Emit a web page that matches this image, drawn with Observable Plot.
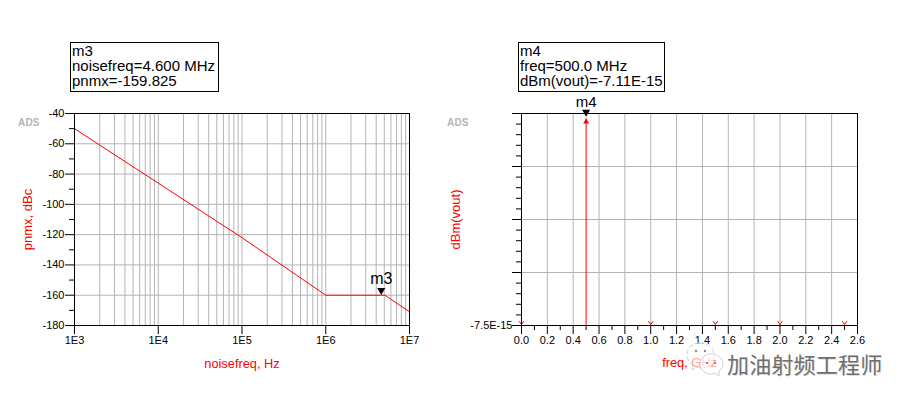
<!DOCTYPE html>
<html>
<head>
<meta charset="utf-8">
<script src="https://cdn.jsdelivr.net/npm/d3@7"></script>
<script src="https://cdn.jsdelivr.net/npm/@observablehq/plot@0.6"></script>
<style>
  html, body { margin: 0; padding: 0; background: #fff; }
  #page { position: relative; width: 911px; height: 402px; overflow: hidden; font-family: "Liberation Sans", Arial, sans-serif; }
  .box { position: absolute; top: 42px; height: 48px; border: 1px solid #000; background: #fff; box-sizing: content-box;
         font-size: 15px; line-height: 15px; padding-left: 1px; white-space: pre; color: #000; }
  .ads { position: absolute; top: 117px; font-size: 10px; font-weight: bold; color: #b5b5b5; letter-spacing: 0.2px; }
  #mark { position: absolute; left: 682px; top: 340px; }
  #wm { position: absolute; left: 727px; top: 348px; font-family: "Noto Sans CJK SC"; font-size: 22px; line-height: 30px; color: #6e6e6e; letter-spacing: 0.2px; white-space: pre; text-shadow: 1px 1px 0 rgba(0,0,0,.12); }
</style>
</head>
<body>
<div id="page"></div>
<script>
// Left chart: phase noise
const noiseFreq = [1e3, 1e4, 1e5, 1e6, 5.1e6, 1e7];
const pnmx = [-50, -86, -122, -160, -160, -171];
const m3Freq = 4.6e6, m3Value = -159.825;
const leftYMajor = [-40, -60, -80, -100, -120, -140, -160, -180];
const leftYMinor = [-50, -70, -90, -110, -130, -150, -170];
const leftDecades = [1e3, 1e4, 1e5, 1e6, 1e7];
const leftGridX = [1e3, 1e4, 1e5, 1e6].flatMap(d => [1, 2, 3, 4, 5, 6, 7, 8, 9].map(m => m * d));

// Right chart: spectrum
const harmonicFreq = [0, 0.5, 1.0, 1.5, 2.0, 2.5];
const harmonicDbm = [-7.5e-15, -7.11e-15, -7.5e-15, -7.5e-15, -7.5e-15, -7.5e-15];
const m4Freq = 0.5, m4Value = -7.11e-15;
const rightYMajor = [-7.5e-15, -7.4e-15, -7.3e-15, -7.2e-15, -7.1e-15];
const rightYMinor = [-7.48, -7.46, -7.44, -7.42, -7.38, -7.36, -7.34, -7.32, -7.28, -7.26, -7.24, -7.22, -7.18, -7.16, -7.14, -7.12].map(v => v * 1e-15);
const rightXMajor = [0, 0.2, 0.4, 0.6, 0.8, 1.0, 1.2, 1.4, 1.6, 1.8, 2.0, 2.2, 2.4, 2.6];
const rightXMinor = [0.1, 0.3, 0.5, 0.7, 0.9, 1.1, 1.3, 1.5, 1.7, 1.9, 2.1, 2.3, 2.5];

const m3Lines = ["m3", "noisefreq=4.600 MHz", "pnmx=-159.825"];
const m4Lines = ["m4", "freq=500.0 MHz", "dBm(vout)=-7.11E-15"];
const watermark = "加油射频工程师";

const GRID = "#b4b4b4", RED = "#ff0000";
const FONT = '"Liberation Sans", Arial, sans-serif';
const planStyle = {background: "transparent", fontFamily: FONT, overflow: "visible", position: "absolute", top: "0px", maxWidth: "none"};
const vMark = {draw(c, s) { const r = Math.sqrt(s) / 2; c.moveTo(-r, -r); c.lineTo(0, r * 0.5); c.lineTo(r, -r); c.moveTo(0, r * 0.5); c.lineTo(0, r); }};
const noLabel = () => "";

const left = Plot.plot({
  width: 440, height: 402,
  marginLeft: 74, marginRight: 31, marginTop: 113, marginBottom: 77,
  style: planStyle,
  x: {type: "log", domain: [1e3, 1e7]},
  y: {domain: [-180, -40]},
  marks: [
    Plot.ruleX(leftGridX, {stroke: GRID, strokeWidth: 1}),
    Plot.ruleY(leftYMajor, {stroke: GRID, strokeWidth: 1}),
    Plot.line(noiseFreq.map((f, i) => ({f, v: pnmx[i]})), {x: "f", y: "v", stroke: RED, strokeWidth: 1}),
    Plot.frame({stroke: "#000", strokeWidth: 1, strokeOpacity: 1}),
    Plot.axisY({ticks: leftYMajor, tickSize: 9, tickPadding: 1, fontSize: 11, label: null, tickFormat: d => String(d), strokeOpacity: 1, fill: "#000"}),
    Plot.axisY({ticks: leftYMinor, tickSize: 5, tickFormat: noLabel, label: null, strokeOpacity: 1}),
    Plot.axisX({ticks: leftDecades, tickSize: 9, tickPadding: 2, fontSize: 11, label: null, tickFormat: d => "1E" + Math.round(Math.log10(d)), strokeOpacity: 1, fill: "#000"}),
    Plot.dot([{x: m3Freq, y: m3Value}], {x: "x", y: "y", symbol: "triangle", r: 3, rotate: 180, fill: "#000", stroke: "none", dy: -4.6}),
    Plot.text([{x: m3Freq, y: m3Value}], {x: "x", y: "y", text: () => m3Lines[0], fontSize: 16, fill: "#000", dy: -16}),
    Plot.text(["noisefreq, Hz"], {frameAnchor: "bottom", dy: 42, fill: RED, fontSize: 12.8}),
    Plot.text(["pnmx, dBc"], {frameAnchor: "left", textAnchor: "middle", rotate: -90, dx: -47, fill: RED, fontSize: 13})
  ]
});
left.style.left = "0px";

const right = Plot.plot({
  width: 471, height: 402,
  marginLeft: 81, marginRight: 54, marginTop: 113, marginBottom: 77,
  style: planStyle,
  x: {domain: [0, 2.6]},
  y: {domain: [-7.5e-15, -7.1e-15]},
  marks: [
    Plot.ruleX(rightXMajor, {stroke: GRID, strokeWidth: 1}),
    Plot.ruleY(rightYMajor, {stroke: GRID, strokeWidth: 1}),
    Plot.ruleX(harmonicFreq.map((f, i) => ({f, v: harmonicDbm[i]})), {x: "f", y1: -7.5e-15, y2: "v", stroke: RED, strokeWidth: 1}),
    Plot.dot([{f: m4Freq, v: m4Value}], {x: "f", y: "v", symbol: "triangle", r: 2.2, fill: RED, stroke: "none", dy: 3}),
    Plot.dot(harmonicFreq.map((f, i) => ({f, v: harmonicDbm[i]})).filter(d => d.v === -7.5e-15), {x: "f", y: "v", symbol: vMark, r: 2.6, stroke: RED, fill: "none", strokeWidth: 1, dy: -2}),
    Plot.frame({stroke: "#000", strokeWidth: 1, strokeOpacity: 1}),
    Plot.axisY({ticks: rightYMajor, tickSize: 9, tickPadding: 0, fontSize: 11, label: null, tickFormat: d => d === rightYMajor[0] ? "-7.5E-15" : "", strokeOpacity: 1, fill: "#000"}),
    Plot.axisY({ticks: rightYMinor, tickSize: 5, tickFormat: noLabel, label: null, strokeOpacity: 1}),
    Plot.axisX({ticks: rightXMajor, tickSize: 9, tickPadding: 2, fontSize: 11, label: null, tickFormat: d => d.toFixed(1), strokeOpacity: 1, fill: "#000"}),
    Plot.axisX({ticks: rightXMinor, tickSize: 5, tickFormat: noLabel, label: null, strokeOpacity: 1}),
    Plot.dot([{x: m4Freq, y: m4Value}], {x: "x", y: "y", symbol: "triangle", r: 3, rotate: 180, fill: "#000", stroke: "none", dy: -6.6}),
    Plot.text([{x: m4Freq, y: m4Value}], {x: "x", y: "y", text: () => m4Lines[0], fontSize: 15, fill: "#000", dy: -17}),
    Plot.text(["freq, GHz"], {frameAnchor: "bottom", dy: 41, fill: RED, fontSize: 12.8}),
    Plot.text(["dBm(vout)"], {frameAnchor: "left", textAnchor: "middle", rotate: -90, dx: -66, fill: RED, fontSize: 13})
  ]
});
right.style.left = "440px";

const page = document.getElementById("page");
page.append(left, right);

function addDiv(cls, css, text, id) {
  const el = document.createElement("div");
  if (cls) el.className = cls;
  if (id) el.id = id;
  el.style.cssText = css;
  el.textContent = text;
  page.append(el);
  return el;
}
addDiv("box", "left:70px;width:146px;", m3Lines.join("\n"));
addDiv("box", "left:518px;width:144px;", m4Lines.join("\n"));
addDiv("ads", "left:18px;", "ADS");
addDiv("ads", "left:447px;", "ADS");

// WeChat-style watermark icon
const ns = "http://www.w3.org/2000/svg";
const mk = document.createElementNS(ns, "svg");
mk.setAttribute("id", "mark");
mk.setAttribute("width", "46");
mk.setAttribute("height", "46");
mk.innerHTML = `
  <path d="M18 3 C9 3 5 9 5 15 C5 20 8 23 11 25 L10 30 L15 27 C17 28 19 28 21 28 C29 28 32 21 32 15 C32 8 26 3 18 3 Z" fill="#fff" fill-opacity=".6" stroke="#d0d0d0" stroke-dasharray="5 2"/>
  <path d="M29 14 C22 14 18 19 18 24 C18 30 23 34 29 34 C30 34 32 34 33 33 L37 36 L37 31 C39 29 41 27 41 24 C41 19 36 14 29 14 Z" fill="#fff" fill-opacity=".6" stroke="#d0d0d0"/>
  <circle cx="14" cy="11" r="1.2" fill="#8a8a8a"/><circle cx="23" cy="11" r="1.2" fill="#8a8a8a"/>
  <circle cx="25" cy="23" r="1" fill="#c44"/><circle cx="33" cy="23" r="1" fill="#c44"/>`;
page.append(mk);
addDiv("", "", watermark, "wm");
</script>
</body>
</html>
